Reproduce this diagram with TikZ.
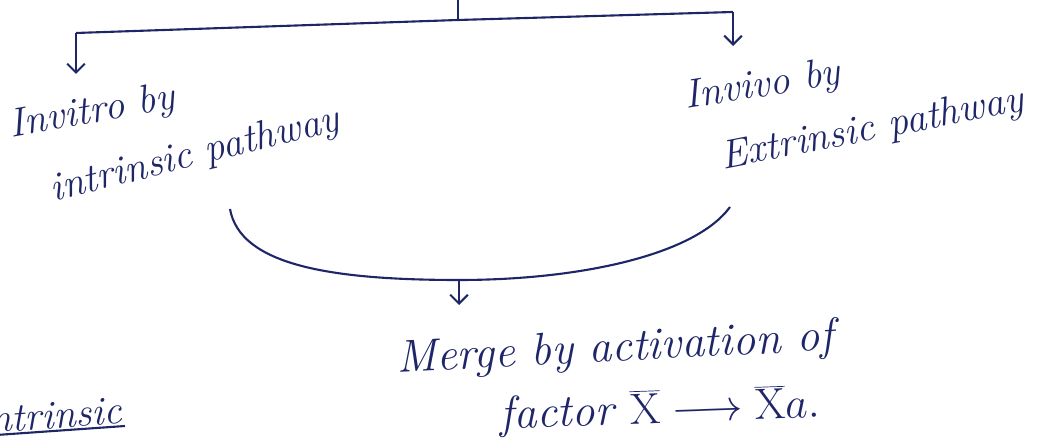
\documentclass[tikz,border=0pt]{standalone}
\usepackage{xcolor}
\usetikzlibrary{arrows.meta, math}
\definecolor{ink}{RGB}{30,38,104}

\tikzset{
  hand/.style={color=ink, font=\fontsize{23}{27}\selectfont\itshape, inner sep=1pt},
  big/.style={hand, font=\fontsize{26}{30}\selectfont\itshape},
  pen/.style={color=ink, line width=1.2pt},
}

\begin{document}
\begin{tikzpicture}[scale=1, >={Straight Barb[length=5pt,width=10pt]}]
\useasboundingbox (0,0) rectangle (21.08,8.9);
\tikzmath{
\xl=1.52;
\xr=14.66;
\xm=9.18;
}

%branch points
\coordinate (top) at (9.16,8.9);
\coordinate (junc) at (9.16,8.5);
\coordinate (lcorner) at (\xl,8.24);
\coordinate (rcorner) at (\xr,8.66);
\coordinate (ltip) at (\xl,7.42);
\coordinate (rtip) at (\xr,7.98);

%texts
\node[hand, rotate=10] (invitro) at (1.85,6.64) {Invitro by};
\node[hand, rotate=14] (intrpath) at (3.9,5.78) {intrinsic pathway};
\node[hand, rotate=9] (invivo) at (15.25,7.17) {Invivo by};
\node[hand, rotate=11] (extrpath) at (17.45,6.3) {Extrinsic pathway};
\node[big, rotate=3] (merge) at (12.3,1.9) {Merge by activation of};
\node[big, rotate=2] (factor) at (13.2,0.68) {factor $\overline{\mathrm{X}}\longrightarrow\overline{\mathrm{X}}a.$};
\node[hand, rotate=4, anchor=south east] (intr) at (2.5,0.38) {Intrinsic};

%arrows
\draw[pen] (top) -- (junc);
\draw[pen] (lcorner) -- (junc) -- (rcorner);
\draw[pen,->] (lcorner) -- (ltip);
\draw[pen,->] (rcorner) -- (rtip);

%merge curve
\coordinate (cl) at (4.6,4.72);
\coordinate (cb) at (\xm,3.3);
\coordinate (cr) at (14.6,4.76);
\coordinate (mtip) at (\xm,2.8);
\draw[pen] (cl) .. controls (4.8,3.6) and (6.6,3.3) .. (cb)
  .. controls (11.6,3.3) and (13.9,3.8) .. (cr);
\draw[pen,->] (cb) -- (mtip);

%underline
\draw[pen] (intr.south west) -- (intr.south east);

\end{tikzpicture}
\end{document}
